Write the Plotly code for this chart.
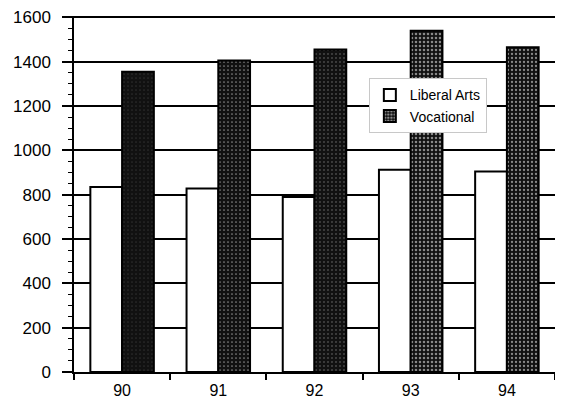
import plotly.graph_objects as go

years = ["90", "91", "92", "93", "94"]
liberal_arts = [835, 828, 790, 912, 905]
vocational = [1355, 1405, 1455, 1540, 1465]
y_ticks = [0, 200, 400, 600, 800, 1000, 1200, 1400, 1600]

# stipple density per vocational bar (scan look)
voc_speckle = [0.04, 0.14, 0.08, 0.32, 0.26]

font_family = "Liberation Sans, Arial, sans-serif"

fig = go.Figure()
fig.add_trace(go.Bar(
    x=years, y=liberal_arts, name="Liberal Arts",
    marker=dict(color="white", line=dict(color="black", width=2)),
))
fig.add_trace(go.Bar(
    x=years, y=vocational, name="Vocational",
    marker=dict(color="#111111", line=dict(color="black", width=2),
                pattern=dict(shape=".", fgcolor="white", bgcolor="#111111",
                             size=4, solidity=voc_speckle)),
))

# page body has an 8px offset, so figure is sized/margined to compensate
fig.update_layout(
    width=555, height=394,
    margin=dict(l=66, r=8, t=8, b=30),
    paper_bgcolor="white", plot_bgcolor="white",
    barmode="group", bargap=0.34, bargroupgap=0,
    font=dict(family=font_family, size=17, color="black"),
    legend=dict(x=0.613, y=0.825, xanchor="left", yanchor="top",
                bgcolor="white", bordercolor="#c8c8c8", borderwidth=1,
                font=dict(size=14), tracegroupgap=0),
    showlegend=True,
)
fig.update_xaxes(
    type="category", range=[-0.5, 4.5], automargin=False,
    showline=True, linecolor="black", linewidth=1.5,
    ticks="outside", tickson="boundaries", ticklen=6, tickwidth=1.5, tickcolor="black",
    ticklabelstandoff=3, tickfont=dict(size=16),
    showgrid=False, zeroline=False,
)
fig.update_yaxes(
    range=[0, 1606], tickvals=y_ticks, ticktext=[str(v) for v in y_ticks],
    automargin=False, ticklabeloverflow="allow",
    showline=True, linecolor="black", linewidth=1.5,
    ticks="outside", ticklen=10, tickwidth=1.5, tickcolor="black",
    ticklabelstandoff=8,
    showgrid=True, gridcolor="black", gridwidth=1.5,
    zeroline=False,
    minor=dict(dtick=50, tick0=0, ticks="outside", ticklen=4, tickwidth=1, tickcolor="black", showgrid=False),
)

fig.write_html("out.html")
